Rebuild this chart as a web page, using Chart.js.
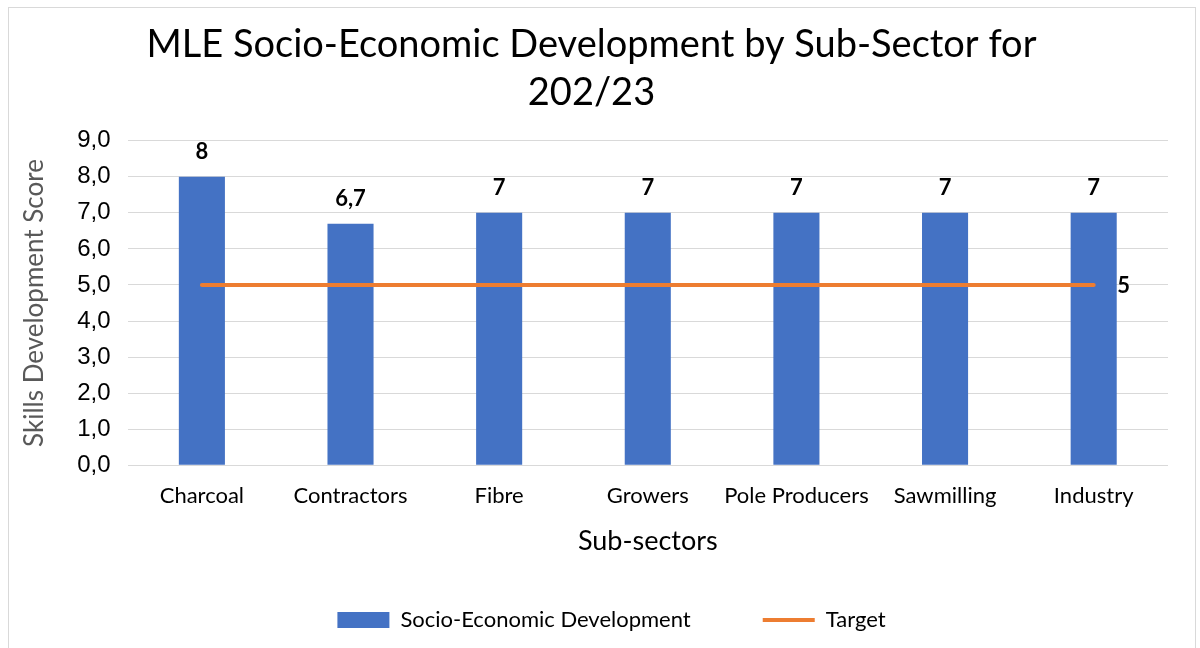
<!DOCTYPE html>
<html>
<head>
<meta charset="utf-8">
<title>MLE Socio-Economic Development</title>
<script src="https://cdn.jsdelivr.net/npm/chart.js@4"></script>
<style>
  html, body { margin: 0; padding: 0; background: #fff; }
  #frame {
    position: absolute; left: 8px; top: 7px; width: 1188px; height: 700px;
    border: 1px solid #d9d9d9; box-sizing: border-box;
  }
  #wrap { position: absolute; left: 0; top: 0; width: 1200px; height: 648px; }
</style>
</head>
<body>
<div id="frame"></div>
<div id="wrap"><canvas id="chart" width="1200" height="648"></canvas></div>
<script>
const subSectors = ["Charcoal", "Contractors", "Fibre", "Growers", "Pole Producers", "Sawmilling", "Industry"];
const developmentScores = [8, 6.7, 7, 7, 7, 7, 7];
const targetScores = [5, 5, 5, 5, 5, 5, 5];
const yTicks = [0, 1, 2, 3, 4, 5, 6, 7, 8, 9];

const BLUE = "#4472C4";
const ORANGE = "#ED7D31";
const TEXT_FONT = "Lato, 'Open Sans', sans-serif";

// writes numbers with a decimal comma
function commaNum(v, digits) {
  const s = digits === undefined ? String(v) : v.toFixed(digits);
  return s.replace(".", ",");
}

// value labels above the bars and at the end of the target line
const valueLabels = {
  id: "valueLabels",
  afterDatasetsDraw(chart) {
    const ctx = chart.ctx;
    ctx.save();
    ctx.font = "bold 22px " + TEXT_FONT;
    ctx.fillStyle = "#000";
    ctx.textAlign = "center";
    ctx.textBaseline = "middle";
    chart.getDatasetMeta(0).data.forEach((bar, i) => {
      ctx.fillText(commaNum(developmentScores[i]), bar.x, bar.y - 25);
    });
    const line = chart.getDatasetMeta(1).data;
    const last = line[line.length - 1];
    ctx.fillText(commaNum(targetScores[targetScores.length - 1]), last.x + 30, last.y + 1);
    ctx.restore();
  }
};

// nudges the legend a little to the right of the canvas centre
const legendShift = {
  id: "legendShift",
  afterLayout(chart) {
    chart.legend.left += 20;
    chart.legend.right += 20;
  }
};

new Chart(document.getElementById("chart"), {
  data: {
    labels: subSectors,
    datasets: [
      {
        type: "bar",
        label: "Socio-Economic Development",
        data: developmentScores,
        backgroundColor: BLUE,
        borderWidth: 0,
        barPercentage: 0.31,
        categoryPercentage: 1,
        pointStyle: "rect",
        order: 2
      },
      {
        type: "line",
        label: "Target",
        data: targetScores,
        borderColor: ORANGE,
        backgroundColor: ORANGE,
        borderWidth: 4,
        borderCapStyle: "round",
        pointRadius: 0,
        pointStyle: "line",
        fill: false,
        order: 1
      }
    ]
  },
  options: {
    responsive: false,
    animation: false,
    events: [],
    layout: { padding: { top: 21, left: 15, right: 32, bottom: 7 } },
    plugins: {
      title: {
        display: true,
        text: ["MLE Socio-Economic Development by Sub-Sector for", "202/23"],
        color: "#000",
        font: { family: TEXT_FONT, size: 38, weight: "normal", lineHeight: 1.26 },
        padding: { top: 0, bottom: 24 }
      },
      legend: {
        position: "bottom",
        labels: {
          usePointStyle: true,
          pointStyleWidth: 52,
          boxHeight: 16,
          color: "#000",
          font: { family: TEXT_FONT, size: 22 },
          padding: 72,
          sort: (a, b) => a.datasetIndex - b.datasetIndex
        }
      },
      tooltip: { enabled: false }
    },
    scales: {
      x: {
        offset: true,
        grid: { display: false },
        border: { display: false },
        ticks: {
          color: "#000",
          font: { family: TEXT_FONT, size: 22 },
          padding: 10,
          maxRotation: 0
        },
        title: {
          display: true,
          text: "Sub-sectors",
          color: "#000",
          font: { family: TEXT_FONT, size: 27 },
          // negative bottom padding lets the title sit inside the legend's top spacing
          padding: { top: 5, bottom: -20 }
        }
      },
      y: {
        min: 0,
        max: 9,
        afterBuildTicks(axis) {
          axis.ticks = yTicks.map(v => ({ value: v }));
        },
        grid: { color: "#d9d9d9", lineWidth: 1, drawTicks: false },
        border: { display: false },
        ticks: {
          color: "#000",
          font: { family: "'Liberation Sans', Arial, sans-serif", size: 24 },
          padding: 17,
          callback: v => commaNum(v, 1)
        },
        title: {
          display: true,
          text: "Skills Development Score",
          color: "#595959",
          font: { family: TEXT_FONT, size: 26 },
          padding: { bottom: 10 }
        }
      }
    }
  },
  plugins: [valueLabels, legendShift]
});
</script>
</body>
</html>
